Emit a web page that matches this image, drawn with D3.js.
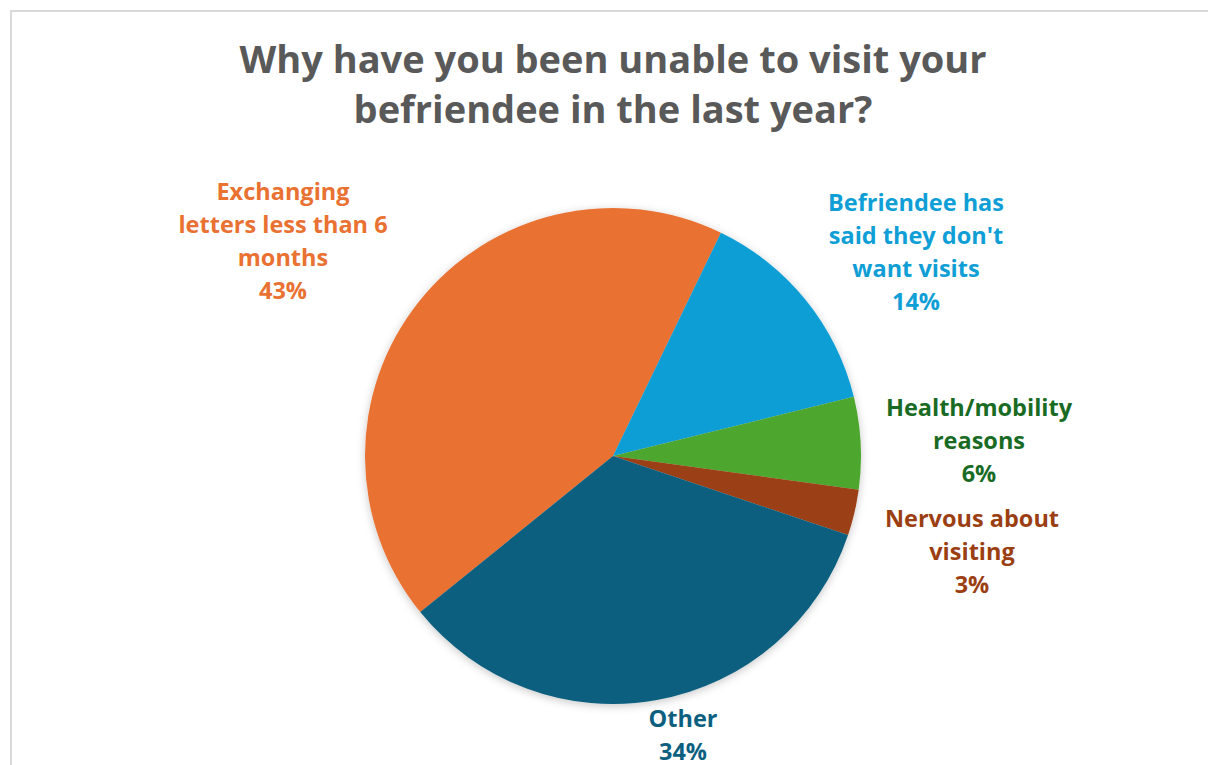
<!DOCTYPE html>
<html>
<head>
<meta charset="utf-8">
<script src="https://cdn.jsdelivr.net/npm/d3@7"></script>
<style>
  html, body { margin: 0; padding: 0; background: #fff; }
  svg { display: block; }
</style>
</head>
<body>
<svg id="chart" width="1208" height="765"></svg>
<script>
// Survey answers, in slice order (clockwise)
const categories = [
  "Exchanging letters less than 6 months",
  "Befriendee has said they don't want visits",
  "Health/mobility reasons",
  "Nervous about visiting",
  "Other"
];
const percentages = [43, 14, 6, 3, 34];
const labelLines = [
  ["Exchanging", "letters less than 6", "months"],
  ["Befriendee has", "said they don't", "want visits"],
  ["Health/mobility", "reasons"],
  ["Nervous about", "visiting"],
  ["Other"]
];

const sliceColors = ["#E97132", "#0F9ED5", "#4EA72E", "#9B3F13", "#0C5F7F"];
const labelColors = ["#E97132", "#0F9ED5", "#196B24", "#9B3F13", "#0C5F7F"];
// label block centres (x, y of first line)
const labelPos = [[283, 192], [916, 203], [979, 408], [972, 519], [683, 719]];

const W = 1208, H = 765;
const cx = 613, cy = 456, radius = 248;
const startDeg = 231;

const svg = d3.select("#chart");

// chart frame
svg.append("rect")
  .attr("x", 11).attr("y", 11)
  .attr("width", W + 20).attr("height", H + 20)
  .attr("fill", "#fff")
  .attr("stroke", "#d9d9d9").attr("stroke-width", 2);

const defs = svg.append("defs");
const f = defs.append("filter").attr("id", "shadow")
  .attr("x", "-10%").attr("y", "-10%").attr("width", "120%").attr("height", "120%");
f.append("feDropShadow")
  .attr("dx", 0).attr("dy", 2).attr("stdDeviation", 4)
  .attr("flood-color", "#000").attr("flood-opacity", 0.22);

// title
const title = svg.append("text")
  .attr("x", 613).attr("text-anchor", "middle")
  .attr("font-family", "'Open Sans', sans-serif")
  .attr("font-weight", 700)
  .attr("font-size", 38)
  .attr("fill", "#595959");
title.append("tspan").attr("x", 613).attr("y", 73).text("Why have you been unable to visit your");
title.append("tspan").attr("x", 613).attr("y", 123).text("befriendee in the last year?");

// pie
const data = categories.map((c, i) => ({ name: c, value: percentages[i], i }));
const pie = d3.pie()
  .value(d => d.value)
  .sort(null)
  .startAngle(startDeg * Math.PI / 180)
  .endAngle(startDeg * Math.PI / 180 + 2 * Math.PI);
const arc = d3.arc().innerRadius(0).outerRadius(radius);

const g = svg.append("g")
  .attr("transform", `translate(${cx},${cy})`)
  .attr("filter", "url(#shadow)");
g.selectAll("path")
  .data(pie(data))
  .join("path")
  .attr("d", arc)
  .attr("fill", d => sliceColors[d.data.i]);

// data labels
const lineH = 33;
data.forEach((d, i) => {
  const [lx, ly] = labelPos[i];
  const t = svg.append("text")
    .attr("text-anchor", "middle")
    .attr("font-family", "'Open Sans', sans-serif")
    .attr("font-weight", 700)
    .attr("font-size", 23.5)
    .attr("fill", labelColors[i]);
  const lines = labelLines[i].concat([d.value + "%"]);
  lines.forEach((s, k) => {
    t.append("tspan")
      .attr("x", lx)
      .attr("y", ly + k * lineH)
      .attr("dy", "0.35em")
      .text(s);
  });
});
</script>
</body>
</html>
